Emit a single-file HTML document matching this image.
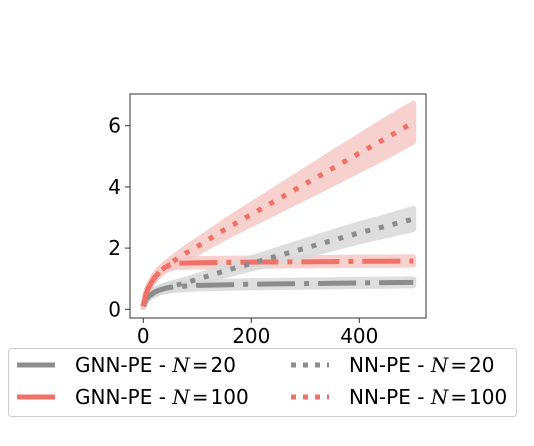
<!DOCTYPE html>
<html><head><meta charset="utf-8"><style>
body{margin:0;background:#fff;}
svg{display:block;font-family:"DejaVu Sans","Liberation Sans",sans-serif;}
</style></head><body>
<svg id="chart" width="534" height="446" xmlns="http://www.w3.org/2000/svg">
<g id="bands"></g>
<g id="lines"></g>
<rect x="130" y="94" width="296" height="224" fill="none" stroke="#333" stroke-width="1"/>
<g id="xticks"></g>
<g id="yticks"></g>
<g>
<rect x="8.5" y="348.5" width="508" height="68" rx="3" fill="#fff" stroke="#ccc"/>
<g>
<line x1="17" y1="365" x2="55" y2="365" stroke="#8c8c8c" stroke-width="5"/>
<text x="75" y="372" font-size="20">GNN-PE - <tspan font-family="DejaVu Serif" font-style="italic">N</tspan>&#8202;=&#8202;20</text></g>
<g>
<line x1="17" y1="397" x2="55" y2="397" stroke="#f07167" stroke-width="5"/>
<text x="75" y="404" font-size="20">GNN-PE - <tspan font-family="DejaVu Serif" font-style="italic">N</tspan>&#8202;=&#8202;100</text></g>
<g>
<line x1="291" y1="365" x2="329" y2="365" stroke="#8c8c8c" stroke-width="5" stroke-dasharray="5 7"/>
<text x="349" y="372" font-size="20">NN-PE - <tspan font-family="DejaVu Serif" font-style="italic">N</tspan>&#8202;=&#8202;20</text></g>
<g>
<line x1="291" y1="397" x2="329" y2="397" stroke="#f07167" stroke-width="5" stroke-dasharray="5 7"/>
<text x="349" y="404" font-size="20">NN-PE - <tspan font-family="DejaVu Serif" font-style="italic">N</tspan>&#8202;=&#8202;100</text></g>
</g>
</svg>
<script>
const xs = [0,5,10,20,30,40,50,60,80,100,150,200,250,300,350,400,450,500];
const gnn20 = [0.1,0.32,0.42,0.55,0.63,0.68,0.72,0.74,0.76,0.78,0.8,0.82,0.83,0.84,0.85,0.86,0.87,0.88];
const gnn100 = [0.1,0.5,0.72,1.02,1.22,1.37,1.46,1.5,1.51,1.52,1.53,1.54,1.55,1.55,1.56,1.57,1.57,1.58];
const nn20 = [0.1,0.32,0.42,0.55,0.63,0.68,0.73,0.78,0.88,0.98,1.25,1.5,1.75,2.0,2.25,2.5,2.72,2.95];
const nn100 = [0.1,0.5,0.72,1.02,1.22,1.37,1.5,1.62,1.85,2.05,2.6,3.1,3.6,4.1,4.6,5.1,5.6,6.1];
const gnn20Std = [0.02,0.05,0.06,0.07,0.08,0.09,0.1,0.1,0.1,0.1,0.1,0.1,0.1,0.1,0.1,0.1,0.1,0.1];
const gnn100Std = [0.02,0.05,0.06,0.08,0.09,0.1,0.12,0.12,0.12,0.12,0.12,0.12,0.12,0.12,0.12,0.12,0.12,0.12];
const nn20Std = [0.02,0.05,0.06,0.07,0.08,0.09,0.1,0.1,0.1,0.11,0.14,0.17,0.2,0.23,0.26,0.28,0.3,0.33];
const nn100Std = [0.02,0.05,0.06,0.08,0.09,0.1,0.12,0.14,0.17,0.2,0.26,0.32,0.38,0.44,0.5,0.55,0.6,0.62];
const xTicks = [0,200,400];
const yTicks = [0,2,4,6];
const X = v => 143.3 + v*0.54;
const Y = v => 309.3 - v*30.6;
const NS = "http://www.w3.org/2000/svg";
const GREY = "#8c8c8c", RED = "#f07167";
const series = [
 {name:"gnn-20", ys:gnn20, sd:gnn20Std, c:GREY, band:"#d9d9d9", dash:"38 9 5 9"},
 {name:"gnn-100", ys:gnn100, sd:gnn100Std, c:RED, band:"#f6c9c5", dash:"38 9 5 9"},
 {name:"nn-20", ys:nn20, sd:nn20Std, c:GREY, band:"#d9d9d9", dash:"5 9"},
 {name:"nn-100", ys:nn100, sd:nn100Std, c:RED, band:"#f6c9c5", dash:"5 9"}
];
const bands = document.getElementById('bands'), lines = document.getElementById('lines');
series.forEach(s=>{
  let up = xs.map((x,i)=>X(x)+","+Y(s.ys[i]+s.sd[i]));
  let dn = xs.map((x,i)=>X(x)+","+Y(s.ys[i]-s.sd[i])).reverse();
  const b = document.createElementNS(NS,'polygon');
  b.setAttribute('points', up.concat(dn).join(' '));
  b.setAttribute('fill', s.band); b.setAttribute('opacity','0.85');
  b.setAttribute('stroke', s.band); b.setAttribute('stroke-width','6'); b.setAttribute('stroke-linejoin','round');
  
  
  bands.appendChild(b);
});
series.forEach(s=>{
  const p = document.createElementNS(NS,'polyline');
  p.setAttribute('points', xs.map((x,i)=>X(x)+","+Y(s.ys[i])).join(' '));
  p.setAttribute('fill','none'); p.setAttribute('stroke', s.c); p.setAttribute('stroke-width','5');
  p.setAttribute('stroke-dasharray', s.dash);
  
  
  lines.appendChild(p);
});
const xt = document.getElementById('xticks');
xTicks.forEach(t=>{
  const l = document.createElementNS(NS,'line');
  l.setAttribute('x1',X(t)); l.setAttribute('x2',X(t)); l.setAttribute('y1',318); l.setAttribute('y2',323);
  l.setAttribute('stroke','#333');
  
  
  xt.appendChild(l);
  const tx = document.createElementNS(NS,'text');
  tx.setAttribute('x',X(t)); tx.setAttribute('y',343); tx.setAttribute('text-anchor','middle'); tx.setAttribute('font-size','20');
  tx.textContent = t;
  
  
  xt.appendChild(tx);
});
const yt = document.getElementById('yticks');
yTicks.forEach(t=>{
  const l = document.createElementNS(NS,'line');
  l.setAttribute('x1',125); l.setAttribute('x2',130); l.setAttribute('y1',Y(t)); l.setAttribute('y2',Y(t));
  l.setAttribute('stroke','#333');
  
  
  yt.appendChild(l);
  const tx = document.createElementNS(NS,'text');
  tx.setAttribute('x',121); tx.setAttribute('y',Y(t)+7); tx.setAttribute('text-anchor','end'); tx.setAttribute('font-size','20');
  tx.textContent = t;
  
  
  yt.appendChild(tx);
});
</script>
</body></html>
